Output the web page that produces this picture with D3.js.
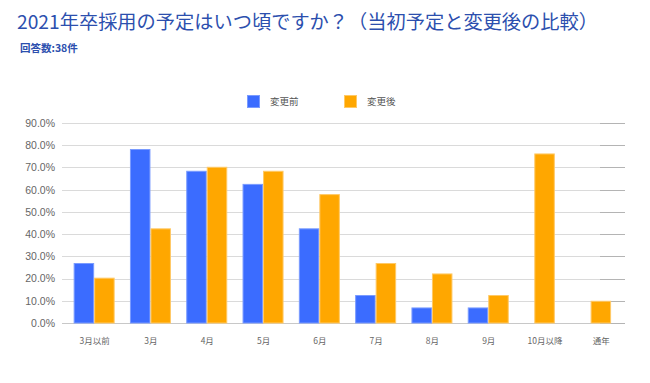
<!DOCTYPE html>
<html><head><meta charset="utf-8">
<script src="https://cdn.jsdelivr.net/npm/d3@7"></script>
<style>
html,body{margin:0;padding:0;background:#fff;}
svg{display:block;font-family:"Noto Sans CJK JP","Noto Sans",sans-serif;}
</style></head>
<body><svg id="c" width="650" height="383"></svg>
<script>
const categories = ["3月以前","3月","4月","5月","6月","7月","8月","9月","10月以降","通年"];
const seriesNames = ["変更前","変更後"];
const before = [0.270,0.783,0.685,0.626,0.426,0.126,0.070,0.070,0,0];
const after  = [0.204,0.426,0.703,0.685,0.580,0.270,0.223,0.126,0.763,0.100];
const yTicks = [0,0.1,0.2,0.3,0.4,0.5,0.6,0.7,0.8,0.9];
const colors = ["#3b6cff","#ffa700"];
const strokes = ["#7a9bff","#ffc966"];

const svg = d3.select("#c");
const plotL = 62, plotR = 625, plotT = 123, plotB = 323;

const x = d3.scalePoint().domain(categories).range([66,629]).padding(0.5);
const y = d3.scaleLinear().domain([0,0.9]).range([plotB,plotT]);
const bw = 20.5;

// title
svg.append("text").attr("x",17).attr("y",29)
  .attr("font-size",19).attr("fill","#2c4fae")
  .attr("textLength",581).attr("lengthAdjust","spacingAndGlyphs")
  .text("2021年卒採用の予定はいつ頃ですか？（当初予定と変更後の比較）");
svg.append("text").attr("x",20).attr("y",52)
  .attr("font-size",10.5).attr("font-weight","bold").attr("fill","#2c4fae")
  .text("回答数:38件");

// grid
const g = svg.append("g");
g.selectAll("line.grid").data(yTicks).enter().append("line")
  .attr("x1",plotL).attr("x2",plotR)
  .attr("y1",d=>Math.round(y(d))+0.5).attr("y2",d=>Math.round(y(d))+0.5)
  .attr("stroke",d=>d===0?"#c8c8c8":"#dadada").attr("stroke-width",1);
g.selectAll("line.grid2").data(yTicks).enter().append("line")
  .attr("x1",600).attr("x2",plotR)
  .attr("y1",d=>Math.round(y(d))+0.5).attr("y2",d=>Math.round(y(d))+0.5)
  .attr("stroke","#b4b4b4").attr("stroke-width",1);

// y axis labels
const yAxis = d3.axisLeft(y).tickValues(yTicks).tickFormat(d3.format(".1%")).tickSize(0).tickPadding(0);
const ya = svg.append("g").attr("transform","translate(55,0)").call(yAxis);
ya.select(".domain").remove();
ya.selectAll("text").attr("font-size",10.5).attr("fill","#666")
  .attr("font-family","'Liberation Sans',Arial,sans-serif");

// x axis labels
const xAxis = d3.axisBottom(x).tickSize(0).tickPadding(0);
const xa = svg.append("g").attr("transform","translate(0,338)").call(xAxis);
xa.select(".domain").remove();
xa.selectAll("text").attr("font-size",8.5).attr("fill","#666")
  .attr("font-family","'Noto Sans CJK JP',sans-serif");

// bars
const rows = categories.map((c,i)=>({c, v:[before[i],after[i]]}));
const bars = [];
rows.forEach(r=>{
  const solo = r.v[0]===0;
  r.v.forEach((v,k)=>{
    if(v<=0) return;
    let x0;
    if(solo) x0 = x(r.c)-bw/2;
    else x0 = x(r.c) - bw + k*bw;
    bars.push({x0,v,k});
  });
});
svg.append("g").selectAll("rect").data(bars).enter().append("rect")
  .attr("x",d=>d.x0+0.5).attr("width",bw-1)
  .attr("y",d=>y(d.v)+0.5).attr("height",d=>y(0)-y(d.v)-0.5)
  .attr("fill",d=>colors[d.k]).attr("stroke",d=>strokes[d.k]).attr("stroke-width",1);

// legend
const leg = svg.append("g");
const legX = [247,344];
seriesNames.forEach((n,k)=>{
  leg.append("rect").attr("x",legX[k]+0.5).attr("y",95.5).attr("width",12).attr("height",12)
    .attr("fill",colors[k]).attr("stroke",strokes[k]);
  leg.append("text").attr("x",legX[k]+23).attr("y",105)
    .attr("font-size",9.5).attr("fill","#555").text(n);
});
</script></body></html>
